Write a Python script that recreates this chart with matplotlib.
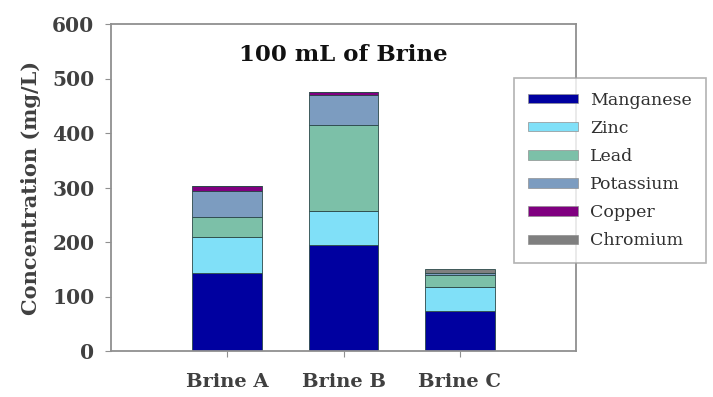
import matplotlib
matplotlib.use("Agg")
import matplotlib.pyplot as plt
import numpy as np
from matplotlib.patches import Patch

categories = ["Brine A", "Brine B", "Brine C"]
series = ["Manganese", "Zinc", "Lead", "Potassium", "Copper", "Chromium"]
manganese = [144, 195, 74]
zinc = [65, 62, 44]
lead = [36, 158, 22]
potassium = [49, 54, 3]
copper = [8, 6, 1]
chromium = [0, 0, 7]
values = [manganese, zinc, lead, potassium, copper, chromium]
colors = ["#0000a0", "#80e0f8", "#7cc0a8", "#7c9cc0", "#800080", "#7f7f7f"]

fig = plt.figure(figsize=(7.13, 3.97), dpi=100)
ax = fig.add_axes([111/713, 1-351/397, (576-111)/713, (351-24)/397])

x = np.arange(len(categories))
bottom = np.zeros(len(categories))
for name, vals, c in zip(series, values, colors):
    ax.bar(x, vals, width=0.6, bottom=bottom, color=c, edgecolor="#2a4848",
           linewidth=0.6, label=name)
    bottom += np.array(vals)

ax.set_xlim(-1, 3)
ax.set_ylim(0, 600)
ax.set_yticks(range(0, 601, 100))
ax.set_xticks(x)
ax.set_xticklabels(categories)
serif = "DejaVu Serif"
for lab in ax.get_yticklabels() + ax.get_xticklabels():
    lab.set_fontfamily(serif)
    lab.set_fontweight("bold")
    lab.set_fontsize(14)
    lab.set_color("#404040")
for lab in ax.get_yticklabels():
    lab.set_fontsize(14.5)
ax.tick_params(axis="y", length=4, pad=8, color="#909090")
ax.tick_params(axis="x", length=4, pad=12, color="#909090")
for s in ax.spines.values():
    s.set_color("#909090")
    s.set_linewidth(1.3)

ax.set_ylabel("Concentration (mg/L)", fontfamily=serif, fontweight="bold",
              fontsize=15, color="#404040", labelpad=8)
ax.text(0.5, 0.905, "100 mL of Brine", transform=ax.transAxes, ha="center",
        va="center", fontfamily=serif, fontweight="bold", fontsize=16.5,
        color="#111111")

handles = [Patch(facecolor=c, edgecolor="#909090", linewidth=0.5) for c in colors]
leg = fig.legend(handles, series, loc="upper left",
                 bbox_to_anchor=(514/713, 1-78/397), borderaxespad=0,
                 prop={"family": serif, "size": 12.5},
                 frameon=True, fancybox=False, edgecolor="#a0a0a0",
                 handlelength=2.9, handleheight=0.45, labelspacing=0.64,
                 borderpad=0.8, handletextpad=0.7)
leg.get_frame().set_linewidth(1.2)
for t in leg.get_texts():
    t.set_color("#303030")

fig.savefig("out.png", dpi=100)
